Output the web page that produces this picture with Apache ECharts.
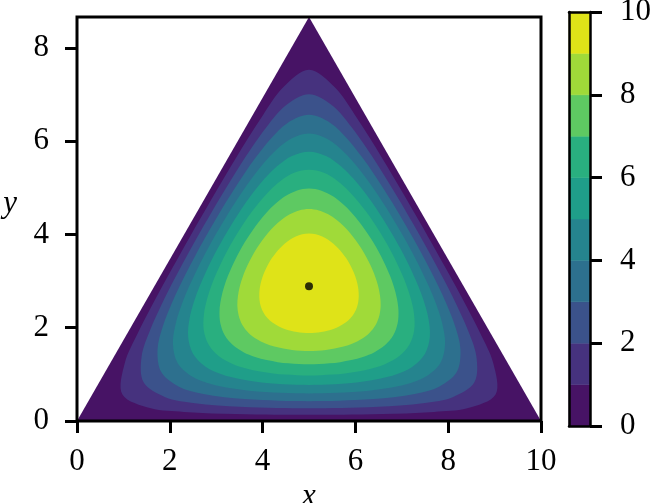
<!DOCTYPE html>
<html>
<head>
  <meta charset="utf-8">
  <title>Triangle contour</title>
  <script src="https://cdn.jsdelivr.net/npm/echarts@6/dist/echarts.min.js"></script>
  <style>
    html, body { margin: 0; padding: 0; background: #fff; }
  </style>
</head>
<body>
  <div id="container" style="height: 503px; width: 654px"></div>
  <script>
    // triangle outline (level 0 boundary)
    var triangle = [[0, 0], [10, 0], [5, 8.66]];
    var centre = [5, 2.887];
    // contour boundaries: radius from the centre, angle clockwise from straight up (7.5 deg steps)
    var angles = [];
    for (var a = 0; a < 360; a += 7.5) angles.push(a);
    var level1 = [
      4.643, 4.297, 3.810, 3.434, 3.162, 2.973, 2.848, 2.777, 2.755, 2.777, 2.848, 2.973, 3.162, 3.434, 3.810, 4.297,
      4.643, 4.297, 3.810, 3.434, 3.162, 2.973, 2.848, 2.777, 2.755, 2.777, 2.848, 2.973, 3.162, 3.434, 3.810, 4.297,
      4.643, 4.297, 3.810, 3.434, 3.162, 2.973, 2.848, 2.777, 2.755, 2.777, 2.848, 2.973, 3.162, 3.434, 3.810, 4.297];
    var level2 = [
      4.116, 3.903, 3.535, 3.219, 2.982, 2.812, 2.699, 2.634, 2.613, 2.634, 2.699, 2.812, 2.982, 3.219, 3.535, 3.903,
      4.116, 3.903, 3.535, 3.219, 2.982, 2.812, 2.699, 2.634, 2.613, 2.634, 2.699, 2.812, 2.982, 3.219, 3.535, 3.903,
      4.116, 3.903, 3.535, 3.219, 2.982, 2.812, 2.699, 2.634, 2.613, 2.634, 2.699, 2.812, 2.982, 3.219, 3.535, 3.903];
    var level3 = [
      3.676, 3.533, 3.255, 2.994, 2.789, 2.639, 2.538, 2.480, 2.461, 2.480, 2.538, 2.639, 2.789, 2.994, 3.255, 3.533,
      3.676, 3.533, 3.255, 2.994, 2.789, 2.639, 2.538, 2.480, 2.461, 2.480, 2.538, 2.639, 2.789, 2.994, 3.255, 3.533,
      3.676, 3.533, 3.255, 2.994, 2.789, 2.639, 2.538, 2.480, 2.461, 2.480, 2.538, 2.639, 2.789, 2.994, 3.255, 3.533];
    var level4 = [
      3.274, 3.175, 2.966, 2.755, 2.582, 2.453, 2.364, 2.313, 2.296, 2.313, 2.364, 2.453, 2.582, 2.755, 2.966, 3.175,
      3.274, 3.175, 2.966, 2.755, 2.582, 2.453, 2.364, 2.313, 2.296, 2.313, 2.364, 2.453, 2.582, 2.755, 2.966, 3.175,
      3.274, 3.175, 2.966, 2.755, 2.582, 2.453, 2.364, 2.313, 2.296, 2.313, 2.364, 2.453, 2.582, 2.755, 2.966, 3.175];
    var level5 = [
      2.887, 2.819, 2.665, 2.499, 2.357, 2.248, 2.172, 2.128, 2.113, 2.128, 2.172, 2.248, 2.357, 2.499, 2.665, 2.819,
      2.887, 2.819, 2.665, 2.499, 2.357, 2.248, 2.172, 2.128, 2.113, 2.128, 2.172, 2.248, 2.357, 2.499, 2.665, 2.819,
      2.887, 2.819, 2.665, 2.499, 2.357, 2.248, 2.172, 2.128, 2.113, 2.128, 2.172, 2.248, 2.357, 2.499, 2.665, 2.819];
    var level6 = [
      2.499, 2.454, 2.345, 2.220, 2.108, 2.020, 1.958, 1.921, 1.909, 1.921, 1.958, 2.020, 2.108, 2.220, 2.345, 2.454,
      2.499, 2.454, 2.345, 2.220, 2.108, 2.020, 1.958, 1.921, 1.909, 1.921, 1.958, 2.020, 2.108, 2.220, 2.345, 2.454,
      2.499, 2.454, 2.345, 2.220, 2.108, 2.020, 1.958, 1.921, 1.909, 1.921, 1.958, 2.020, 2.108, 2.220, 2.345, 2.454];
    var level7 = [
      2.097, 2.068, 1.996, 1.908, 1.826, 1.759, 1.710, 1.681, 1.672, 1.681, 1.710, 1.759, 1.826, 1.908, 1.996, 2.068,
      2.097, 2.068, 1.996, 1.908, 1.826, 1.759, 1.710, 1.681, 1.672, 1.681, 1.710, 1.759, 1.826, 1.908, 1.996, 2.068,
      2.097, 2.068, 1.996, 1.908, 1.826, 1.759, 1.710, 1.681, 1.672, 1.681, 1.710, 1.759, 1.826, 1.908, 1.996, 2.068];
    var level8 = [
      1.658, 1.641, 1.599, 1.544, 1.491, 1.445, 1.412, 1.391, 1.384, 1.391, 1.412, 1.445, 1.491, 1.544, 1.599, 1.641,
      1.658, 1.641, 1.599, 1.544, 1.491, 1.445, 1.412, 1.391, 1.384, 1.391, 1.412, 1.445, 1.491, 1.544, 1.599, 1.641,
      1.658, 1.641, 1.599, 1.544, 1.491, 1.445, 1.412, 1.391, 1.384, 1.391, 1.412, 1.445, 1.491, 1.544, 1.599, 1.641];
    var level9 = [
      1.131, 1.124, 1.105, 1.080, 1.054, 1.031, 1.013, 1.002, 0.998, 1.002, 1.013, 1.031, 1.054, 1.080, 1.105, 1.124,
      1.131, 1.124, 1.105, 1.080, 1.054, 1.031, 1.013, 1.002, 0.998, 1.002, 1.013, 1.031, 1.054, 1.080, 1.105, 1.124,
      1.131, 1.124, 1.105, 1.080, 1.054, 1.031, 1.013, 1.002, 0.998, 1.002, 1.013, 1.031, 1.054, 1.080, 1.105, 1.124];
    var contourLevels = [level1, level2, level3, level4, level5, level6, level7, level8, level9];
    var bandColors = ['#471365', '#46327e', '#3b528b', '#2d708e', '#25848e',
      '#1f9e89', '#29af7f', '#5ec962', '#a0da39', '#dfe318'];
    var bandEdges = [0, 1, 2, 3, 4, 5, 6, 7, 8, 9, 10];
    var xTicks = [0, 2, 4, 6, 8, 10];
    var yTicks = [0, 2, 4, 6, 8];
    var cbarTicks = [0, 2, 4, 6, 8, 10];

    var font = '"Liberation Serif", "DejaVu Serif", serif';

    // polygon per band: 0 -> triangle, i -> area above contour level i
    var regions = [{ pts: triangle.map(function (p) { return p.slice(); }), band: 0 }];
    contourLevels.forEach(function (radii, i) {
      var pts = radii.map(function (r, k) {
        var t = angles[k] * Math.PI / 180;
        return [centre[0] + r * Math.sin(t), centre[1] + r * Math.cos(t)];
      });
      regions.push({ pts: pts, band: i + 1 });
    });

    // colour bar blocks
    var cbarData = [];
    for (var i = 0; i < bandColors.length; i++) {
      cbarData.push([bandEdges[i], bandEdges[i + 1], i]);
    }

    var frameLine = { show: true, onZero: false, lineStyle: { color: '#000', width: 2.5 } };

    var container = document.getElementById('container');
    var myChart = echarts.init(container);
    var option = {
      backgroundColor: '#ffffff',
      animation: false,
      grid: [
        { left: 77, top: 17, width: 464, height: 404, outerBoundsMode: 'none', containLabel: false, z: 10,
          show: true, borderColor: '#000', borderWidth: 3, backgroundColor: 'transparent' },
        { left: 569, top: 12, width: 21, height: 414, outerBoundsMode: 'none', containLabel: false,
          show: false }
      ],
      xAxis: [
        {
          type: 'value', gridIndex: 0, min: 0, max: 10, interval: 2,
          name: 'x', nameLocation: 'middle', nameGap: 60, nameMoveOverlap: false,
          nameTextStyle: { fontFamily: font, fontStyle: 'italic', fontSize: 31, color: '#000' },
          axisLine: { show: false },
          axisTick: { show: true, length: 12, inside: false, customValues: xTicks, lineStyle: { color: '#000', width: 3 } },
          axisLabel: { customValues: xTicks, margin: 25, fontFamily: font, fontSize: 31, color: '#000' },
          splitLine: { show: false }
        },
        { type: 'value', gridIndex: 1, min: 0, max: 1, position: 'bottom', z: 10,
          axisLine: frameLine, axisTick: { show: false }, axisLabel: { show: false }, splitLine: { show: false } },
        { type: 'value', gridIndex: 1, min: 0, max: 1, position: 'top', z: 10,
          axisLine: frameLine, axisTick: { show: false }, axisLabel: { show: false }, splitLine: { show: false } }
      ],
      yAxis: [
        {
          type: 'value', gridIndex: 0, min: 0, max: 8.66, interval: 2,
          name: 'y', nameLocation: 'middle', nameGap: 60, nameRotate: 0, nameMoveOverlap: false,
          nameTextStyle: { fontFamily: font, fontStyle: 'italic', fontSize: 31, color: '#000', verticalAlign: 'bottom' },
          axisLine: { show: false },
          axisTick: { show: true, length: 12, inside: false, customValues: yTicks, lineStyle: { color: '#000', width: 3 } },
          axisLabel: { customValues: yTicks, margin: 28, fontFamily: font, fontSize: 31, color: '#000' },
          splitLine: { show: false }
        },
        {
          type: 'value', gridIndex: 1, min: 0, max: 10, interval: 2, position: 'right', z: 10,
          axisLine: frameLine,
          axisTick: { show: true, length: 12, inside: false, customValues: cbarTicks, lineStyle: { color: '#000', width: 3 } },
          axisLabel: { customValues: cbarTicks, margin: 30, fontFamily: font, fontSize: 31, color: '#000' },
          splitLine: { show: false }
        },
        { type: 'value', gridIndex: 1, min: 0, max: 10, position: 'left', z: 10,
          axisLine: frameLine, axisTick: { show: false }, axisLabel: { show: false }, splitLine: { show: false } }
      ],
      series: [
        {
          type: 'custom',
          xAxisIndex: 0, yAxisIndex: 0,
          clip: true,
          data: regions.map(function (r, i) { return [i]; }),
          renderItem: function (params, api) {
            var reg = regions[api.value(0)];
            var points = reg.pts.map(function (p) { return api.coord(p); });
            return {
              type: 'polygon',
              shape: { points: points, smooth: reg.band === 0 ? 0 : 0.33 },
              style: { fill: bandColors[reg.band], stroke: null }
            };
          },
          silent: true,
          z: 1
        },
        {
          type: 'scatter',
          xAxisIndex: 0, yAxisIndex: 0,
          data: [centre],
          symbolSize: 8,
          itemStyle: { color: '#000' },
          z: 5
        },
        {
          type: 'custom',
          xAxisIndex: 1, yAxisIndex: 1,
          data: cbarData,
          renderItem: function (params, api) {
            var p0 = api.coord([0, api.value(1)]);
            var p1 = api.coord([1, api.value(0)]);
            var idx = api.value(2);
            return {
              type: 'rect',
              shape: { x: p0[0], y: p0[1], width: p1[0] - p0[0], height: p1[1] - p0[1] },
              style: { fill: bandColors[idx], stroke: bandColors[idx], lineWidth: 0.5 }
            };
          },
          silent: true,
          z: 1
        }
      ]
    };
    myChart.setOption(option);
  </script>
</body>
</html>
